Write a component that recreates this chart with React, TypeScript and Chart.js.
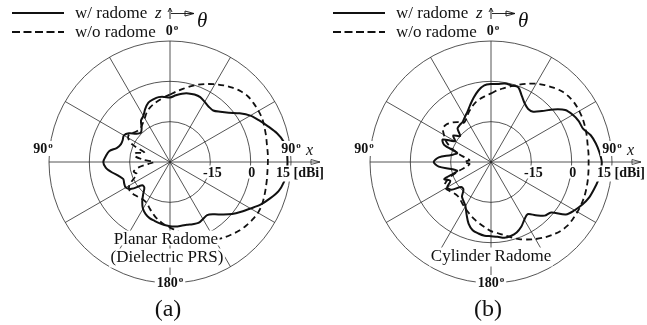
import React, { useEffect, useRef } from 'react';
import { Chart, registerables } from 'chart.js';

Chart.register(...registerables);

// Angle categories (deg, clockwise from +z at the top), 5 deg steps
const ANGLES: number[] = Array.from({ length: 72 }, (_, i) => i * 5);

// Radial scale (dBi)
const R_MIN = -30;
const R_MAX = 15;
const R_STEP = 15;
const RING_TICKS: { value: number; label: string }[] = [
  { value: -15, label: '-15' },
  { value: 0, label: '0' },
  { value: 15, label: '15 [dBi]' },
];
const ANGLE_LABELS: { index: number; label: string }[] = [
  { index: 0, label: '0' },
  { index: 18, label: '90' },
  { index: 36, label: '180' },
  { index: 54, label: '90' },
];

const LEGEND = ['w/ radome', 'w/o radome'];

// (a) Planar radome (dielectric PRS)
const solidA: number[] = [
  -6.0, -5.1, -4.2, -3.6, -3.3, -3.4, -4.2, -4.9, -5.0, -3.6, -1.5, 1.6,
  4.5, 6.6, 8.8, 11.2, 13.0, 13.6, 13.7, 13.6, 13.0, 11.8, 9.6, 7.3,
  4.6, 2.3, 0.1, -2.4, -4.6, -5.9, -5.5, -5.0, -5.4, -5.8, -5.9, -5.9,
  -6.1, -6.5, -6.9, -7.4, -7.8, -8.6, -9.9, -12.0, -14.5, -16.5, -16.5, -12.6,
  -11.0, -11.2, -11.5, -10.2, -8.0, -6.0, -5.2, -6.0, -7.0, -9.6, -10.6, -10.6,
  -10.2, -11.4, -13.6, -14.6, -13.6, -11.2, -10.2, -8.2, -6.5, -5.9, -5.5, -5.7,
];
const dashedA: number[] = [
  -4.9, -3.7, -2.4, -0.9, 0.6, 2.0, 3.4, 4.8, 6.1, 7.2, 7.9, 8.0,
  8.0, 7.9, 7.4, 7.0, 6.6, 6.5, 6.4, 6.4, 6.6, 6.9, 7.3, 7.7,
  7.8, 7.4, 6.9, 6.2, 5.3, 4.4, 3.3, 2.0, 0.4, -1.3, -3.0, -4.4,
  -5.6, -6.6, -7.7, -8.9, -10.2, -11.5, -12.5, -12.8, -12.6, -12.2, -11.8, -11.6,
  -12.5, -15.0, -17.0, -16.0, -18.0, -22.0, -24.0, -20.0, -16.5, -17.0, -20.0, -14.5,
  -12.0, -11.7, -12.8, -13.3, -13.2, -12.4, -11.2, -9.6, -8.4, -7.5, -6.7, -5.8,
];

// (b) Cylinder radome
const solidB: number[] = [
  -1.0, -0.9, -0.4, -0.5, -0.4, -2.9, -4.9, -5.9, -5.6, -3.2, 0.4, 3.7,
  5.1, 6.0, 6.4, 8.4, 9.6, 10.5, 11.2, 10.9, 10.4, 9.6, 8.8, 7.5,
  5.9, 4.0, -0.8, -1.8, -4.2, -6.3, -5.2, -3.4, -2.1, -1.5, -1.4, -2.1,
  -2.4, -2.5, -3.0, -3.7, -5.6, -8.5, -11.0, -12.2, -13.2, -15.5, -15.5, -12.0,
  -11.2, -13.3, -11.5, -17.0, -15.0, -10.5, -8.7, -10.5, -15.0, -17.0, -11.5, -10.2,
  -14.5, -12.8, -15.0, -12.4, -12.0, -11.7, -10.6, -9.3, -7.4, -5.2, -3.0, -1.4,
];
const dashedB: number[] = [
  -4.5, -3.2, -2.1, -0.8, 0.6, 2.1, 3.6, 4.9, 6.1, 7.2, 7.8, 8.0,
  7.9, 7.7, 7.3, 6.9, 6.5, 6.4, 6.3, 6.4, 6.6, 6.8, 7.0, 7.1,
  7.1, 7.1, 7.0, 6.4, 5.4, 4.3, 3.1, 1.8, 0.5, -1.0, -2.4, -3.5,
  -4.3, -5.5, -6.6, -7.6, -8.6, -9.6, -10.5, -11.3, -12.0, -12.3, -12.0, -11.2,
  -10.5, -11.2, -14.0, -18.0, -21.0, -22.0, -20.0, -22.0, -20.0, -17.0, -14.0, -11.5,
  -9.8, -8.2, -8.3, -9.3, -10.6, -12.2, -11.6, -10.0, -8.6, -7.2, -6.2, -5.4,
];

const SERIF = '"Liberation Serif", "Times New Roman", serif';
const INK = '#111';
const GRID = '#2a2a2a';

type Align = 'left' | 'center' | 'right';

function boxText(ctx: CanvasRenderingContext2D, txt: string, x: number, y: number, font: string, align: Align = 'center', bg = true) {
  ctx.font = font;
  const m = ctx.measureText(txt);
  const w = m.width;
  const x0 = align === 'center' ? x - w / 2 : align === 'right' ? x - w : x;
  if (bg) {
    const asc = m.actualBoundingBoxAscent;
    const desc = m.actualBoundingBoxDescent;
    ctx.fillStyle = '#fff';
    ctx.fillRect(x0 - 1.5, y - asc - 1.5, w + 3, asc + desc + 3);
  }
  ctx.fillStyle = INK;
  ctx.textAlign = 'left';
  ctx.textBaseline = 'alphabetic';
  ctx.fillText(txt, x0, y);
  return w;
}

function degText(ctx: CanvasRenderingContext2D, num: string, xc: number, y: number) {
  const f1 = `bold 14px ${SERIF}`;
  const f2 = `bold 9px ${SERIF}`;
  ctx.font = f1;
  const w1 = ctx.measureText(num).width;
  ctx.font = f2;
  const w2 = ctx.measureText('o').width;
  const total = w1 + 1 + w2;
  const x0 = xc - total / 2;
  ctx.fillStyle = '#fff';
  ctx.fillRect(x0 - 2, y - 12, total + 4, 15);
  ctx.fillStyle = INK;
  ctx.textAlign = 'left';
  ctx.textBaseline = 'alphabetic';
  ctx.font = f1;
  ctx.fillText(num, x0, y);
  ctx.font = f2;
  ctx.fillText('o', x0 + w1 + 1, y - 5);
}

type Caption = { text: string; dx: number; dy: number };

function makeChart(canvas: HTMLCanvasElement, solid: number[], dashed: number[], padLeft: number, padRight: number, captions: Caption[], letter: string, letterDx: number) {
  const decor = {
    id: 'polarDecor',
    afterDraw(chart: any) {
      const ctx: CanvasRenderingContext2D = chart.ctx;
      const s: any = chart.scales.r;
      const cx: number = s.xCenter;
      const cy: number = s.yCenter;
      const R: number = s.getDistanceFromCenterForValue(R_MAX);
      ctx.save();

      // extended x axis with arrow
      ctx.strokeStyle = GRID;
      ctx.lineWidth = 0.8;
      ctx.beginPath();
      ctx.moveTo(cx + R, cy);
      ctx.lineTo(cx + 150, cy);
      ctx.stroke();
      ctx.beginPath();
      ctx.moveTo(cx + 141, cy - 2.5);
      ctx.lineTo(cx + 150, cy);
      ctx.lineTo(cx + 141, cy + 2.5);
      ctx.closePath();
      ctx.stroke();
      ctx.font = `italic 16px ${SERIF}`;
      ctx.fillStyle = INK;
      ctx.textAlign = 'left';
      ctx.fillText('x', cx + 136, cy - 7);

      // caption text inside the pattern
      captions.forEach((c) => boxText(ctx, c.text, cx + c.dx, cy + c.dy, `17px ${SERIF}`));

      // radial tick labels along +x
      RING_TICKS.forEach((t) => {
        const r = s.getDistanceFromCenterForValue(t.value);
        const font = `bold 14px ${SERIF}`;
        if (t.value === R_MAX) boxText(ctx, t.label, cx + r - 15, cy + 15, font, 'left');
        else boxText(ctx, t.label, cx + r + (t.value === -15 ? 2 : 1), cy + 15, font, 'center');
      });

      // angle labels
      ANGLE_LABELS.forEach((a) => {
        if (a.index === 0) degText(ctx, a.label, cx + 2, cy - 127);
        else if (a.index === 18) degText(ctx, a.label, cx + 121, cy - 9);
        else if (a.index === 36) degText(ctx, a.label, cx, cy + 125);
        else degText(ctx, a.label, cx - 127, cy - 9);
      });

      // legend
      ctx.strokeStyle = INK;
      ctx.lineWidth = 2;
      ctx.beginPath();
      ctx.moveTo(cx - 158, cy - 149);
      ctx.lineTo(cx - 106, cy - 149);
      ctx.stroke();
      ctx.setLineDash([8, 3.5]);
      ctx.beginPath();
      ctx.moveTo(cx - 158, cy - 130);
      ctx.lineTo(cx - 106, cy - 130);
      ctx.stroke();
      ctx.setLineDash([]);
      boxText(ctx, LEGEND[0], cx - 95, cy - 144, `17px ${SERIF}`, 'left', false);
      boxText(ctx, LEGEND[1], cx - 95, cy - 125, `17px ${SERIF}`, 'left', false);
      boxText(ctx, 'z', cx - 15, cy - 144, `italic 17px ${SERIF}`, 'left', false);

      // z / theta arrows
      ctx.lineWidth = 0.9;
      ctx.strokeStyle = INK;
      ctx.beginPath();
      ctx.moveTo(cx, cy - 143);
      ctx.lineTo(cx, cy - 154);
      ctx.moveTo(cx - 2, cy - 150);
      ctx.lineTo(cx, cy - 154);
      ctx.lineTo(cx + 2, cy - 150);
      ctx.stroke();
      ctx.beginPath();
      ctx.moveTo(cx + 1, cy - 148.5);
      ctx.lineTo(cx + 24, cy - 148.5);
      ctx.stroke();
      ctx.beginPath();
      ctx.moveTo(cx + 15, cy - 151);
      ctx.lineTo(cx + 24, cy - 148.5);
      ctx.lineTo(cx + 15, cy - 146);
      ctx.closePath();
      ctx.stroke();
      boxText(ctx, 'θ', cx + 27, cy - 135, `italic 21px ${SERIF}`, 'left', false);

      // panel letter
      boxText(ctx, letter, cx + letterDx, cy + 154, `24px ${SERIF}`, 'center', false);

      ctx.restore();
    },
  };

  return new Chart(canvas, {
    type: 'radar',
    data: {
      labels: ANGLES.map((a) => String(a)),
      datasets: [
        {
          label: LEGEND[0],
          data: solid,
          borderColor: INK,
          borderWidth: 2,
          pointRadius: 0,
          fill: false,
          tension: 0.3,
        },
        {
          label: LEGEND[1],
          data: dashed,
          borderColor: INK,
          borderWidth: 1.8,
          borderDash: [6, 4],
          pointRadius: 0,
          fill: false,
          tension: 0.3,
        },
      ],
    },
    options: {
      responsive: false,
      animation: false,
      layout: { padding: { left: padLeft, right: padRight, top: 41, bottom: 42 } },
      plugins: { legend: { display: false }, tooltip: { enabled: false } },
      scales: {
        r: {
          min: R_MIN,
          max: R_MAX,
          ticks: { display: false, stepSize: R_STEP },
          pointLabels: { display: false },
          grid: { circular: true, color: GRID, lineWidth: 0.8 },
          angleLines: {
            display: true,
            color: GRID,
            lineWidth: (c: any) => (c.index % 6 === 0 ? 0.8 : 0),
          },
        },
      },
    },
    plugins: [decor],
  } as any);
}

export default function App() {
  const refA = useRef<HTMLCanvasElement>(null);
  const refB = useRef<HTMLCanvasElement>(null);
  useEffect(() => {
    const a = makeChart(
      refA.current!, solidA, dashedA, 49, 32,
      [
        { text: 'Planar Radome', dx: -4, dy: 82 },
        { text: '(Dielectric PRS)', dx: -3, dy: 100 },
      ],
      '(a)', -2,
    );
    const b = makeChart(
      refB.current!, solidB, dashedB, 47, 35,
      [{ text: 'Cylinder Radome', dx: 0, dy: 99 }],
      '(b)', -3,
    );
    return () => {
      a.destroy();
      b.destroy();
    };
  }, []);
  return (
    <div style={{ position: 'absolute', left: 0, top: 0, width: 647, height: 325, background: '#fff', overflow: 'hidden' }}>
      <canvas ref={refA} width={323} height={325} style={{ position: 'absolute', left: 0, top: 0 }} />
      <canvas ref={refB} width={324} height={325} style={{ position: 'absolute', left: 323, top: 0 }} />
    </div>
  );
}
